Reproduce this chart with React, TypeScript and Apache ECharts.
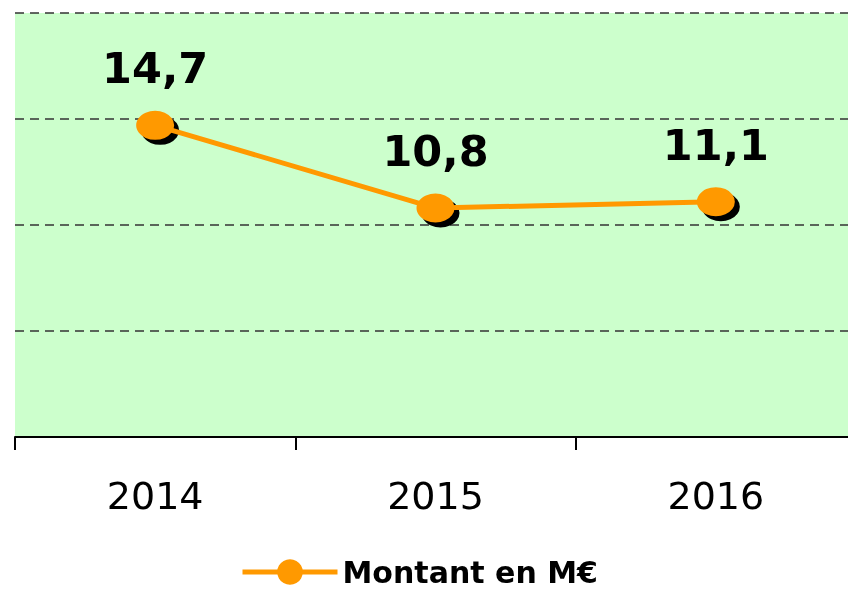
import React, { useEffect, useRef } from "react";
import * as echarts from "echarts";

const categories = ["2014", "2015", "2016"];
const montant = [14.7, 10.8, 11.1];
const seriesName = "Montant en M€";

export default function App() {
  const ref = useRef<HTMLDivElement>(null);
  useEffect(() => {
    if (!ref.current) return;
    const chart = echarts.init(ref.current, null, { renderer: "svg" });
    chart.setOption({
      animation: false,
      grid: {
        show: true,
        left: 15,
        top: 13,
        width: 841,
        height: 424,
        outerBoundsMode: "none",
        containLabel: false,
        backgroundColor: "#CCFFCC",
        borderWidth: 0,
      },
      legend: {
        data: [seriesName],
        left: 235,
        top: 552,
        padding: 5,
        itemWidth: 95,
        itemHeight: 32,
        itemGap: 8,
        lineStyle: { width: 5 },
        textStyle: {
          fontFamily: "DejaVu Sans",
          fontWeight: "bold",
          fontSize: 30,
          color: "#000",
          lineHeight: 30,
        },
      },
      xAxis: {
        type: "category",
        data: categories,
        boundaryGap: true,
        axisLine: { show: true, lineStyle: { color: "#000", width: 2 } },
        axisTick: { show: true, length: 13, lineStyle: { color: "#000", width: 2 } },
        axisLabel: {
          fontFamily: "DejaVu Sans",
          fontSize: 38,
          color: "#000",
          margin: 40,
        },
        splitLine: { show: false },
      },
      yAxis: {
        type: "value",
        min: 0,
        max: 20,
        interval: 5,
        axisLine: { show: false },
        axisTick: { show: false },
        axisLabel: { show: false },
        splitLine: {
          show: true,
          lineStyle: { color: "#333", type: [9, 6], width: 1.5 },
        },
      },
      series: [
        {
          name: "shadow",
          type: "line",
          data: montant,
          z: 1,
          symbol: "circle",
          symbolSize: [38, 29],
          symbolOffset: [5, 5],
          itemStyle: { color: "#000" },
          lineStyle: { opacity: 0 },
          silent: true,
        },
        {
          name: seriesName,
          type: "line",
          data: montant,
          z: 3,
          symbol: "circle",
          symbolSize: [38, 29],
          itemStyle: { color: "#FF9900" },
          lineStyle: { color: "#FF9900", width: 5 },
          label: {
            show: true,
            position: "top",
            distance: 21,
            fontFamily: "DejaVu Sans",
            fontWeight: "bold",
            fontSize: 43,
            color: "#000",
            formatter: (p: any) => String(p.value).replace(".", ","),
          },
        },
      ],
    });
    return () => chart.dispose();
  }, []);
  return (
    <div
      ref={ref}
      style={{ position: "fixed", left: 0, top: 0, width: 848, height: 592 }}
    />
  );
}
